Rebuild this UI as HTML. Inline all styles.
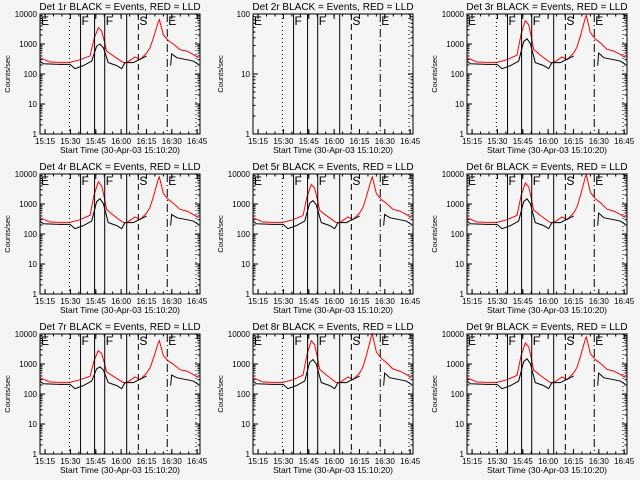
<!DOCTYPE html>
<html><head><meta charset="utf-8"><style>
html,body{margin:0;padding:0;background:#f5f5f5;}
svg{display:block;font-family:"Liberation Sans",sans-serif;}
</style></head><body>
<svg id="c" width="640" height="480" viewBox="0 0 640 480"></svg>
<script>
// time in minutes after 15:00 (start 15:10:20)
const redT = [12,17.9,23.8,29.8,35.7,41.6,44,46.5,48.5,50,51.4,55.4,61.3,63.3,68.2,71.2,75.1,77.1,79.1,82,82.6,85,87.9,90.9,94.8,98.8,102.7,105.7];
const redV = [350,250,245,245,300,400,1500,3500,2700,1300,580,400,240,240,370,300,500,750,1600,5500,6500,2000,1300,1000,650,580,450,350];
const blackT1 = [12,14,23.8,29.8,32.7,37.6,42.6,45.5,47.5,49.5,52.4,57.4,60.3,62.3,67.2,73.1,75.1];
const blackV1 = [270,220,210,210,150,190,270,840,1000,750,240,190,150,240,240,350,400];
const blackT2 = [89.3,89.9,92.9,98.8,102.7,105.7];
const blackV2 = [190,470,350,300,270,210];
const detNames = ["1r","2r","3r","4r","5r","6r","7r","8r","9r"];
const peak1Red = [3500,0,6000,5500,4500,5000,2800,6000,5000];
const peak2Red = [6500,0,9000,8000,8000,9500,6000,10000,8000];
const peak1Black = [1000,0,1500,1500,1300,1500,800,1400,1500];
const peak2Black = [470,0,500,450,450,500,430,500,500];
const tickLabels = ["15:15","15:30","15:45","16:00","16:15","16:30","16:45"];
const tickTimes = [15,30,45,60,75,90,105];
const lineTimes = [29.4,36,44.3,50.3,63.3,70.2,87.3,104.3];
const lineStyles = ["dot","solid","solid","solid","solid","dash","dashdot","dot"];
const segLabels = ["E","F","F","S","E"];
const segTimes = [12,36,50.3,70.2,87.3];

const NS="http://www.w3.org/2000/svg";
const svg=document.getElementById('c');
function mk(tag,attrs,parent){const e=document.createElementNS(NS,tag);for(const k in attrs)e.setAttribute(k,attrs[k]);(parent||svg).appendChild(e);return e;}
function scaleSeries(T,V,lo,hi,basePeak,newPeak,bg){
  return V.map((v,i)=>{const t=T[i];if(t<lo||t>hi||v<=bg)return v;
    const w=Math.log(v/bg)/Math.log(basePeak/bg);return v*Math.pow(newPeak/basePeak,w);});
}
for(let p=0;p<9;p++){
  const col=p%3,row=Math.floor(p/3);
  const ox=[0,213,427][col],oy=row*160;
  const g=mk('g',{transform:`translate(${ox},${oy})`});
  
  
  const empty=(p===1);
  const L=40,R=200,T=14,B=134;
  const decades=empty?2:4;
  const X=t=>L+(t-12)*1.69;
  const Y=v=>B-Math.log10(v)/decades*(B-T);
  const ti=mk('text',{x:120,y:10,'text-anchor':'middle','font-size':'10',fill:'#000'},g);
  ti.textContent=`Det ${detNames[p]} BLACK = Events, RED = LLD`;
  
  
  for(let d=0;d<=decades;d++){
    const y=Y(Math.pow(10,d));
    mk('line',{x1:L,x2:L+5,y1:y,y2:y,stroke:'#000'},g);
    mk('line',{x1:R,x2:R-5,y1:y,y2:y,stroke:'#000'},g);
    const tl=mk('text',{x:L-3,y:y+3,'text-anchor':'end','font-size':'8',fill:'#000'},g);
    tl.textContent=String(Math.pow(10,d));
    
    
    if(d<decades)for(let m=2;m<10;m++){const ym=Y(m*Math.pow(10,d));
      mk('line',{x1:L,x2:L+2.5,y1:ym,y2:ym,stroke:'#000'},g);
      mk('line',{x1:R,x2:R-2.5,y1:ym,y2:ym,stroke:'#000'},g);}
  }
  tickTimes.forEach((t,i)=>{const x=X(t);
    mk('line',{x1:x,x2:x,y1:B,y2:B-5,stroke:'#000'},g);
    mk('line',{x1:x,x2:x,y1:T,y2:T+5,stroke:'#000'},g);
    const tl=mk('text',{x:x,y:B+10,'text-anchor':'middle','font-size':'8',fill:'#000'},g);
    tl.textContent=tickLabels[i];
    
    
  });
  for(let t=15;t<=106;t+=5){const x=X(t);mk('line',{x1:x,x2:x,y1:B,y2:B-2.5,stroke:'#000'},g);mk('line',{x1:x,x2:x,y1:T,y2:T+2.5,stroke:'#000'},g);}
  const xt=mk('text',{x:120,y:B+19,'text-anchor':'middle','font-size':'8.5',fill:'#000'},g);
  xt.textContent='Start Time (30-Apr-03 15:10:20)';
  
  
  const yt=mk('text',{x:0,y:0,'text-anchor':'middle','font-size':'7.5',fill:'#000',transform:`translate(10,${(T+B)/2}) rotate(-90)`},g);
  yt.textContent='Counts/sec';
  
  
  if(!empty){
    let rv=scaleSeries(redT,redV,40,56,3500,peak1Red[p],300);
    rv=scaleSeries(redT,rv,75,95,6500,peak2Red[p],500);
    const bv1=scaleSeries(blackT1,blackV1,40,56,1000,peak1Black[p],270);
    const bv2=scaleSeries(blackT2,blackV2,89,91,470,peak2Black[p],300);
    const rl=mk('polyline',{points:redT.map((t,i)=>X(t)+','+Y(rv[i])).join(' '),fill:'none',stroke:'#f00','stroke-width':'1'},g);
    
    
    const b1=mk('polyline',{points:blackT1.map((t,i)=>X(t)+','+Y(bv1[i])).join(' '),fill:'none',stroke:'#000','stroke-width':'1'},g);
    
    
    const b2=mk('polyline',{points:blackT2.map((t,i)=>X(t)+','+Y(bv2[i])).join(' '),fill:'none',stroke:'#000','stroke-width':'1'},g);
    
    
  }
  lineTimes.forEach((t,i)=>{const x=X(t);const s=lineStyles[i];
    const da=s==='dot'?'1,3':s==='dash'?'6,4':s==='dashdot'?'8,3,1,3':'none';
    const ln=mk('line',{x1:x,x2:x,y1:T,y2:B,stroke:'#000','stroke-width':'1','stroke-dasharray':da},g);
    
    
  });
  segTimes.forEach((t,i)=>{
    const st=mk('text',{x:X(t)+1,y:T+11,'font-size':'12',fill:'#000'},g);
    st.textContent=segLabels[i];
    
    
  });
  const box=mk('rect',{x:L,y:T,width:R-L,height:B-T,fill:'none',stroke:'#000','stroke-width':'1'},g);
  
  
}
</script>
</body></html>
